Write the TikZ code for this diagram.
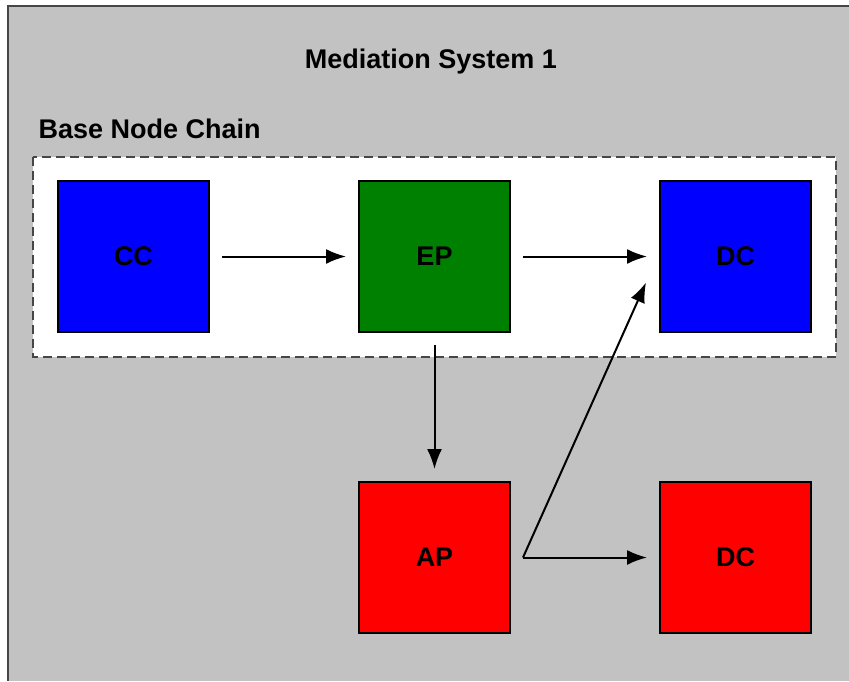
\documentclass[tikz,border=0pt]{standalone}
\usepackage{fontspec}
\setmainfont{Liberation Sans}
\usetikzlibrary{arrows.meta}

\definecolor{panelgray}{RGB}{194,194,194}
\definecolor{framegray}{RGB}{70,70,70}
\definecolor{chainblue}{RGB}{0,0,255}
\definecolor{chaingreen}{RGB}{0,128,0}
\definecolor{chainred}{RGB}{255,0,0}

\tikzset{
    unit/.style={draw=black, line width=2pt, minimum width=151pt, minimum height=151pt,
        inner sep=0pt, font=\fontsize{27}{32}\selectfont\bfseries},
    link/.style={line width=2pt, -{Latex[length=20pt, width=15pt]}, shorten >=12pt, shorten <=12pt},
    caption/.style={font=\fontsize{27}{32}\selectfont\bfseries}
}

\begin{document}
\begin{tikzpicture}[x=1pt, y=-1pt]
            \useasboundingbox (0, 0) rectangle (849, 681);
            \fill[panelgray] (8, 6) rectangle (849, 681);
            \draw[framegray, line width=2.5pt] (849, 6) -- (8, 6) -- (8, 681);
            \node[caption, anchor=base] (title) at (431, 68) {Mediation System 1};
            \node[caption, anchor=base west] (chainlabel) at (35, 138) {Base Node Chain};
            \draw[fill=white, line width=2pt, dash pattern=on 9pt off 5pt, draw=framegray] (33, 157) rectangle (836, 357);

            \node[unit, fill=chainblue] (cc) at (133.5, 256.5) {CC};
            \node[unit, fill=chaingreen] (ep) at (434.5, 256.5) {EP};
            \node[unit, fill=chainblue] (dc) at (735.5, 256.5) {DC};
            \node[unit, fill=chainred] (ap) at (434.5, 557.5) {AP};
            \node[unit, fill=chainred] (dcout) at (735.5, 557.5) {DC};

            \draw[link] (cc) -- (ep);
            \draw[link] (ep) -- (dc);
            \draw[link] (ep) -- (ap);
            \draw[link] (ap) -- (dcout);
            \coordinate (fork) at ([xshift=12pt]ap.east);
            \coordinate (dcin) at ([xshift=-13pt, yshift=-26pt]dc.west);
            \draw[link, shorten <=0pt, shorten >=0pt] (fork) -- (dcin);
        \end{tikzpicture}
\end{document}
